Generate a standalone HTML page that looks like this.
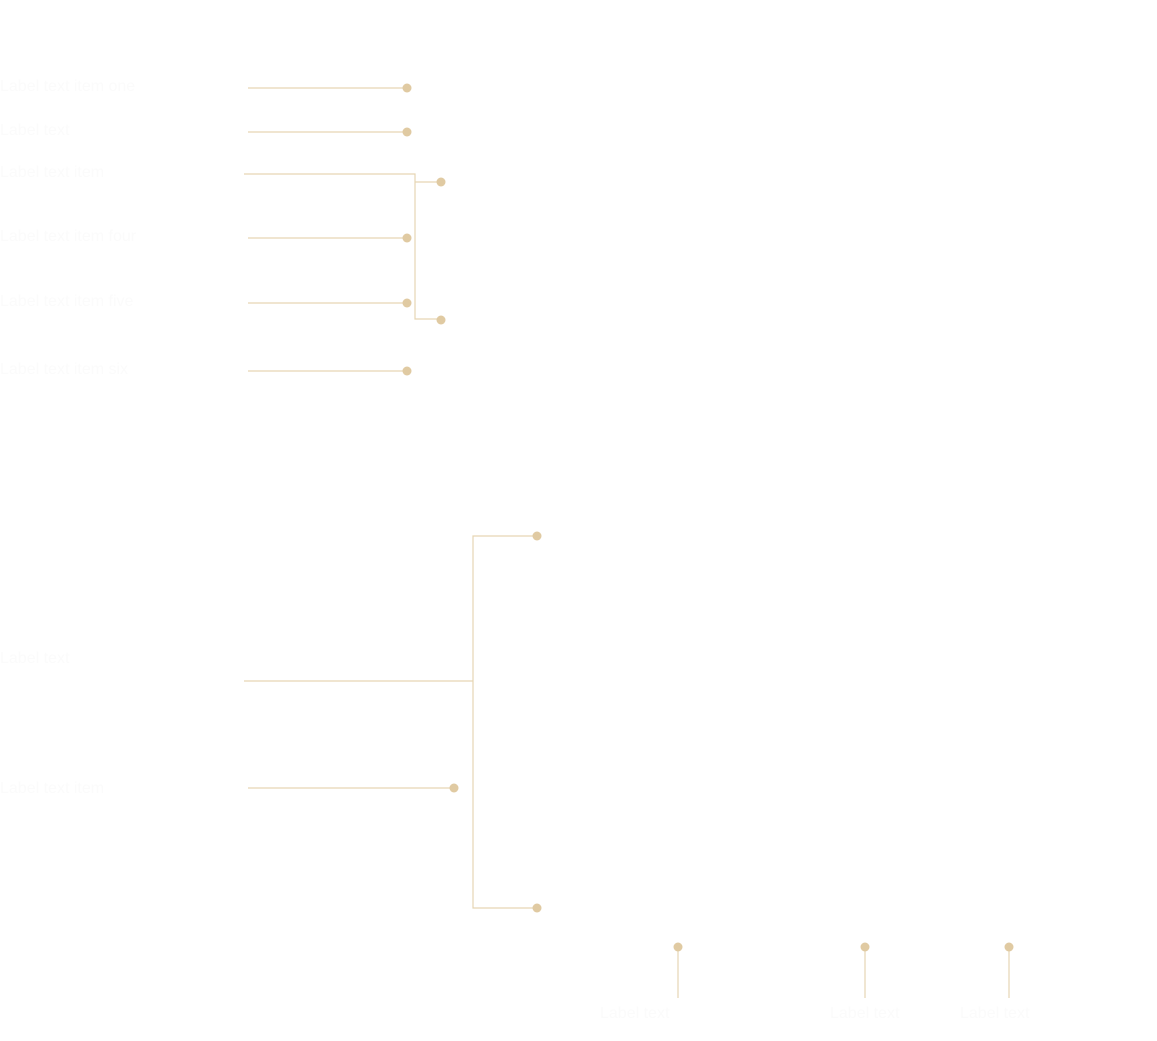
<!DOCTYPE html>
<html><head><meta charset="utf-8"><style>
html,body{margin:0;padding:0;background:#fff;}
body{width:1157px;height:1041px;overflow:hidden;position:relative;font-family:"Liberation Sans",sans-serif;}
.t{position:absolute;color:#fbfbfb;font-size:16px;white-space:nowrap;}
</style></head><body>
<svg width="1157" height="1041" style="position:absolute;left:0;top:0">
<g stroke="#e6d5b3" stroke-width="1.2" fill="none">
<line x1="248" y1="88" x2="407" y2="88"/>
<line x1="248" y1="132" x2="407" y2="132"/>
<polyline points="244,174 415,174 415,319 441,319"/>
<line x1="415" y1="182" x2="441" y2="182"/>
<line x1="248" y1="238" x2="407" y2="238"/>
<line x1="248" y1="303" x2="407" y2="303"/>
<line x1="248" y1="371" x2="407" y2="371"/>
<line x1="244" y1="681" x2="473" y2="681"/>
<polyline points="537,536 473,536 473,908 537,908"/>
<line x1="248" y1="788" x2="454" y2="788"/>
<line x1="678" y1="947" x2="678" y2="998"/>
<line x1="865" y1="947" x2="865" y2="998"/>
<line x1="1009" y1="947" x2="1009" y2="998"/>
</g>
<g fill="#e0caa2">
<circle cx="407" cy="88" r="4.5"/>
<circle cx="407" cy="132" r="4.5"/>
<circle cx="441" cy="182" r="4.5"/>
<circle cx="407" cy="238" r="4.5"/>
<circle cx="407" cy="303" r="4.5"/>
<circle cx="441" cy="320" r="4.5"/>
<circle cx="407" cy="371" r="4.5"/>
<circle cx="537" cy="536" r="4.5"/>
<circle cx="454" cy="788" r="4.5"/>
<circle cx="537" cy="908" r="4.5"/>
<circle cx="678" cy="947" r="4.5"/>
<circle cx="865" cy="947" r="4.5"/>
<circle cx="1009" cy="947" r="4.5"/>
</g>
</svg>
<div class="t" style="left:0;top:78px">Label text item one</div>
<div class="t" style="left:0;top:122px">Label text</div>
<div class="t" style="left:0;top:164px">Label text item</div>
<div class="t" style="left:0;top:228px">Label text item four</div>
<div class="t" style="left:0;top:293px">Label text item five</div>
<div class="t" style="left:0;top:361px">Label text item six</div>
<div class="t" style="left:0;top:650px">Label text</div>
<div class="t" style="left:0;top:780px">Label text item</div>
<div class="t" style="left:600px;top:1005px">Label text</div>
<div class="t" style="left:830px;top:1005px">Label text</div>
<div class="t" style="left:960px;top:1005px">Label text</div>
</body></html>
